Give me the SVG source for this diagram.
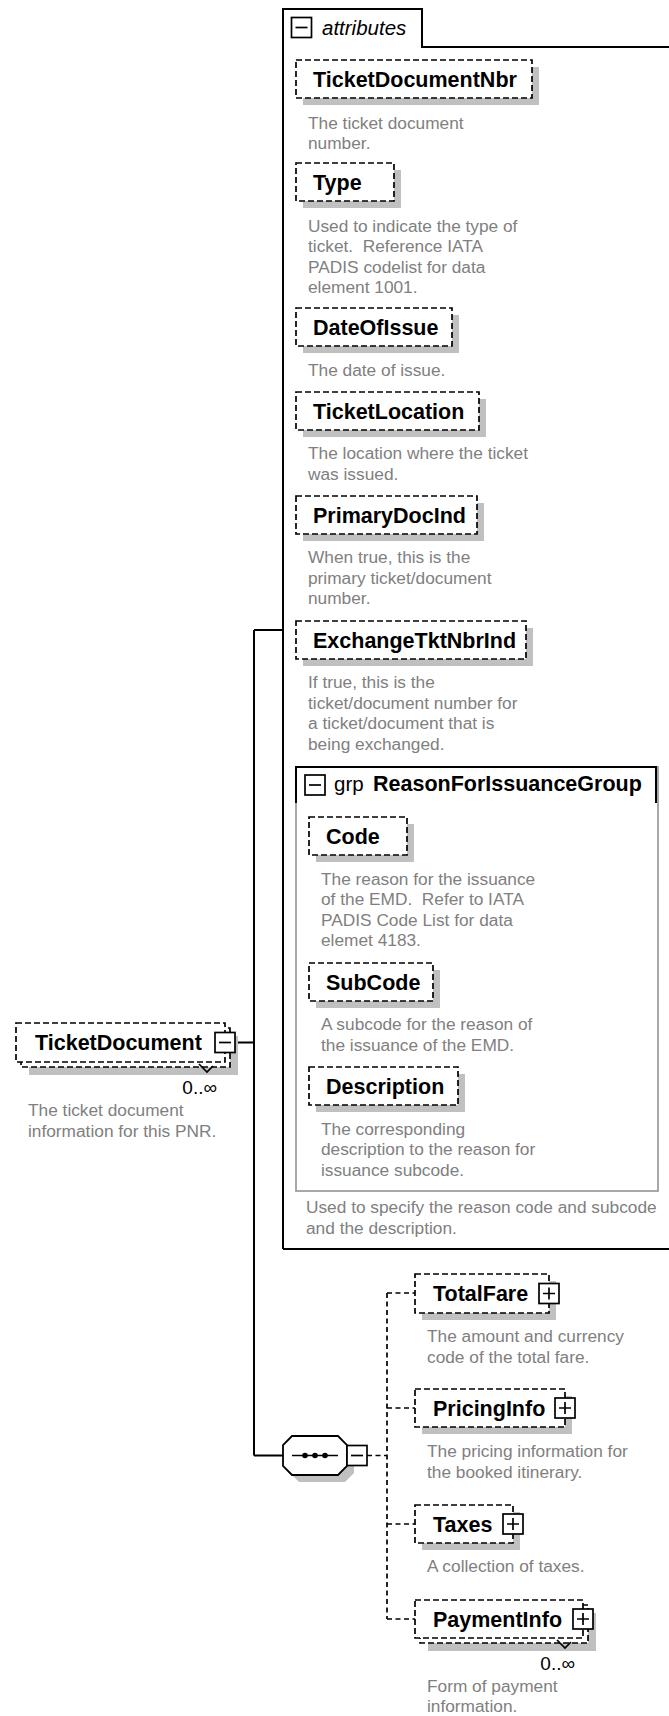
<svg xmlns="http://www.w3.org/2000/svg" width="669" height="1716" viewBox="0 0 669 1716">
<style>
.sh{fill:#c0c0c0}
.box{fill:#fff;stroke:#000;stroke-width:1.7;stroke-dasharray:6 3}
.name{font-family:"Liberation Sans",Arial,sans-serif;font-weight:bold;font-size:21.5px;fill:#000}
.desc{font-family:"Liberation Sans",Arial,sans-serif;font-size:17.3px;fill:#808080;white-space:pre}
.occ{font-family:"Liberation Sans",Arial,sans-serif;font-size:19px;fill:#000}
.icon{fill:#fff;stroke:#000;stroke-width:1.7}
.sign{stroke:#000;stroke-width:1.7;fill:none}
.conn{stroke:#000;stroke-width:2;fill:none}
.dconn{stroke:#000;stroke-width:1.7;fill:none;stroke-dasharray:5 3.5}
.frame{stroke:#000;stroke-width:2;fill:none}
.gframe{stroke:#999;stroke-width:1.7;fill:none}
.label{font-family:"Liberation Sans",Arial,sans-serif;font-size:20.5px;fill:#000}
</style>
<defs>
<g id="minus"><rect class="icon" x="-10" y="-10" width="20" height="20"/><path class="sign" d="M-6,0H6"/></g>
<g id="plus"><rect class="icon" x="-10" y="-10" width="20" height="20"/><path class="sign" d="M-6,0H6M0,-6V6"/></g>
</defs>

<g id="connectors">
<path class="conn" d="M254,630V1455.5M254,630H283M235,1042.5H254M254,1455.5H283"/>
<path class="dconn" d="M367,1455.5H387M387,1293V1619M387,1293H415M387,1408H415M387,1524H415M387,1619H415"/>
</g>

<g id="attributes">
<path class="frame" d="M283,1249V9H422V47H680M283,1249H680"/>
<use href="#minus" x="301.5" y="27.5"/>
<text class="label" x="322" y="34.5" font-style="italic">attributes</text>
</g>

<g id="TicketDocumentNbr">
<rect class="sh" x="303" y="67" width="236" height="38"/>
<rect class="box" x="296" y="60" width="236" height="38"/>
<text class="name" x="313" y="86.7">TicketDocumentNbr</text>
<text class="desc" x="308" y="128.5">The ticket document</text>
<text class="desc" x="308" y="149">number.</text>
</g>

<g id="Type">
<rect class="sh" x="303" y="170" width="98" height="38"/>
<rect class="box" x="296" y="163" width="98" height="38"/>
<text class="name" x="313" y="189.7">Type</text>
<text class="desc" x="308" y="231.5">Used to indicate the type of</text>
<text class="desc" x="308" y="252">ticket.  Reference IATA</text>
<text class="desc" x="308" y="272.5">PADIS codelist for data</text>
<text class="desc" x="308" y="293">element 1001.</text>
</g>

<g id="DateOfIssue">
<rect class="sh" x="303" y="315" width="156" height="38"/>
<rect class="box" x="296" y="308" width="156" height="38"/>
<text class="name" x="313" y="334.7">DateOfIssue</text>
<text class="desc" x="308" y="376">The date of issue.</text>
</g>

<g id="TicketLocation">
<rect class="sh" x="303" y="399" width="183" height="38"/>
<rect class="box" x="296" y="392" width="183" height="38"/>
<text class="name" x="313" y="418.7">TicketLocation</text>
<text class="desc" x="308" y="459">The location where the ticket</text>
<text class="desc" x="308" y="479.5">was issued.</text>
</g>

<g id="PrimaryDocInd">
<rect class="sh" x="303" y="503" width="181" height="38"/>
<rect class="box" x="296" y="496" width="181" height="38"/>
<text class="name" x="313" y="522.7">PrimaryDocInd</text>
<text class="desc" x="308" y="563">When true, this is the</text>
<text class="desc" x="308" y="583.5">primary ticket/document</text>
<text class="desc" x="308" y="604">number.</text>
</g>

<g id="ExchangeTktNbrInd">
<rect class="sh" x="303" y="628" width="230" height="38"/>
<rect class="box" x="296" y="621" width="230" height="38"/>
<text class="name" x="313" y="647.7">ExchangeTktNbrInd</text>
<text class="desc" x="308" y="688">If true, this is the</text>
<text class="desc" x="308" y="708.5">ticket/document number for</text>
<text class="desc" x="308" y="729">a ticket/document that is</text>
<text class="desc" x="308" y="749.5">being exchanged.</text>
</g>

<g id="ReasonForIssuanceGroup">
<rect class="gframe" x="296" y="767" width="362" height="424"/>
<path class="frame" d="M296,803V767H656V803"/>
<use href="#minus" x="315" y="785"/>
<text class="label" x="334" y="791" fill="#808080">grp</text>
<text class="name" x="373" y="791">ReasonForIssuanceGroup</text>
<text class="desc" x="306" y="1213">Used to specify the reason code and subcode</text>
<text class="desc" x="306" y="1233.5">and the description.</text>
</g>

<g id="Code">
<rect class="sh" x="316" y="824" width="98" height="38"/>
<rect class="box" x="309" y="817" width="98" height="38"/>
<text class="name" x="326" y="843.7">Code</text>
<text class="desc" x="321" y="884.5">The reason for the issuance</text>
<text class="desc" x="321" y="905">of the EMD.  Refer to IATA</text>
<text class="desc" x="321" y="925.5">PADIS Code List for data</text>
<text class="desc" x="321" y="946">elemet 4183.</text>
</g>

<g id="SubCode">
<rect class="sh" x="316" y="970" width="124" height="38"/>
<rect class="box" x="309" y="963" width="124" height="38"/>
<text class="name" x="326" y="989.7">SubCode</text>
<text class="desc" x="321" y="1030">A subcode for the reason of</text>
<text class="desc" x="321" y="1050.5">the issuance of the EMD.</text>
</g>

<g id="Description">
<rect class="sh" x="316" y="1074" width="149" height="38"/>
<rect class="box" x="309" y="1067" width="149" height="38"/>
<text class="name" x="326" y="1093.7">Description</text>
<text class="desc" x="321" y="1134.5">The corresponding</text>
<text class="desc" x="321" y="1155">description to the reason for</text>
<text class="desc" x="321" y="1175.5">issuance subcode.</text>
</g>

<g id="TicketDocument">
<rect class="sh" x="29" y="1036" width="209" height="39"/>
<rect class="box" x="21" y="1028" width="209" height="39"/>
<rect class="box" x="16" y="1023" width="209" height="39"/>
<text class="name" x="35" y="1050.2">TicketDocument</text>
<use href="#minus" x="225" y="1042.5"/>
<path class="sign" stroke-width="1.2" d="M199,1064L207,1072L213,1066"/>
<text class="occ" x="217" y="1094" text-anchor="end">0..∞</text>
<text class="desc" x="28" y="1116">The ticket document</text>
<text class="desc" x="28" y="1136.5">information for this PNR.</text>
</g>

<g id="sequence">
<polygon class="sh" points="299,1443 345,1443 354,1452 354,1473 345,1482 299,1482 290,1473 290,1452"/>
<polygon fill="#fff" stroke="#000" stroke-width="1.8" points="292,1436 338,1436 347,1445 347,1466 338,1475 292,1475 283,1466 283,1445"/>
<path class="sign" d="M292,1455.5H338"/>
<circle cx="305" cy="1455.5" r="2.8"/>
<circle cx="315" cy="1455.5" r="2.8"/>
<circle cx="325" cy="1455.5" r="2.8"/>
<use href="#minus" x="357" y="1455.5"/>
</g>

<g id="TotalFare">
<rect class="sh" x="422" y="1281" width="134" height="39"/>
<rect class="box" x="415" y="1274" width="134" height="39"/>
<text class="name" x="433" y="1301">TotalFare</text>
<use href="#plus" x="549" y="1293.5"/>
<text class="desc" x="427" y="1342">The amount and currency</text>
<text class="desc" x="427" y="1362.5">code of the total fare.</text>
</g>

<g id="PricingInfo">
<rect class="sh" x="422" y="1396" width="150" height="38"/>
<rect class="box" x="415" y="1389" width="150" height="38"/>
<text class="name" x="433" y="1415.7">PricingInfo</text>
<use href="#plus" x="565" y="1408"/>
<text class="desc" x="427" y="1457">The pricing information for</text>
<text class="desc" x="427" y="1477.5">the booked itinerary.</text>
</g>

<g id="Taxes">
<rect class="sh" x="422" y="1512" width="98" height="38"/>
<rect class="box" x="415" y="1505" width="98" height="38"/>
<text class="name" x="433" y="1531.7">Taxes</text>
<use href="#plus" x="513" y="1524"/>
<text class="desc" x="427" y="1572">A collection of taxes.</text>
</g>

<g id="PaymentInfo">
<rect class="sh" x="428" y="1613" width="168" height="38"/>
<rect class="box" x="420" y="1605" width="168" height="38"/>
<rect class="box" x="415" y="1600" width="168" height="38"/>
<text class="name" x="433" y="1626.7">PaymentInfo</text>
<use href="#plus" x="583" y="1619"/>
<path class="sign" stroke-width="1.2" d="M557,1640L565,1648L571,1642"/>
<text class="occ" x="575" y="1670" text-anchor="end">0..∞</text>
<text class="desc" x="427" y="1692">Form of payment</text>
<text class="desc" x="427" y="1712">information.</text>
</g>
</svg>
